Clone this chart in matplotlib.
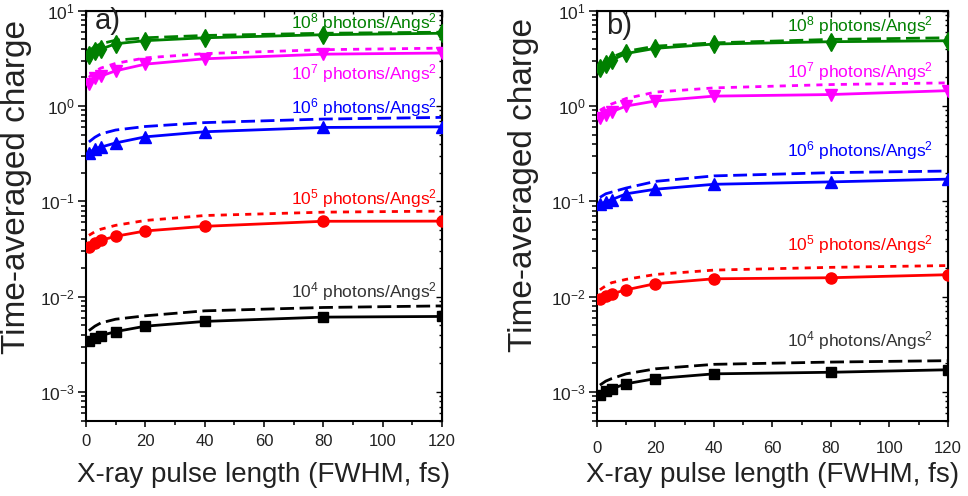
import matplotlib
matplotlib.use("Agg")
import matplotlib.pyplot as plt
from matplotlib.ticker import MultipleLocator, LogLocator, NullFormatter

plt.rcParams["font.family"] = ["Liberation Sans", "DejaVu Sans"]
plt.rcParams["mathtext.fontset"] = "custom"
plt.rcParams["mathtext.rm"] = "Liberation Sans"
plt.rcParams["mathtext.it"] = "Liberation Sans:italic"
plt.rcParams["mathtext.bf"] = "Liberation Sans:bold"
plt.rcParams["mathtext.default"] = "regular"

# X-ray pulse length (FWHM, fs)
pulse_fs = [1, 3, 5, 10, 20, 40, 80, 120]

# panel a) simulated points (solid) and model curves (dashed/dotted)
a_1e8_sim = [3.45, 3.8, 3.95, 4.5, 4.85, 5.2, 5.6, 5.8]
a_1e8_model = [3.8, 4.2, 4.5, 4.9, 5.2, 5.5, 5.8, 5.95]
a_1e7_sim = [1.72, 1.95, 2.06, 2.34, 2.75, 3.13, 3.5, 3.6]
a_1e7_model = [2.0, 2.3, 2.5, 2.8, 3.2, 3.55, 3.9, 4.05]
a_1e6_sim = [0.32, 0.358, 0.37, 0.41, 0.475, 0.537, 0.596, 0.605]
a_1e6_model = [0.42, 0.47, 0.51, 0.56, 0.61, 0.67, 0.73, 0.76]
a_1e5_sim = [0.0332, 0.0366, 0.039, 0.043, 0.0489, 0.0547, 0.0618, 0.062]
a_1e5_model = [0.044, 0.048, 0.051, 0.056, 0.063, 0.071, 0.077, 0.079]
a_1e4_sim = [0.00342, 0.0037, 0.0039, 0.0043, 0.0049, 0.0055, 0.0061, 0.0062]
a_1e4_model = [0.0044, 0.0049, 0.0053, 0.0058, 0.0063, 0.0071, 0.0077, 0.0080]

# panel b)
b_1e8_sim = [2.48, 2.75, 3.03, 3.56, 4.03, 4.47, 4.73, 4.84]
b_1e8_model = [2.6, 2.95, 3.25, 3.75, 4.25, 4.6, 5.0, 5.2]
b_1e7_sim = [0.74, 0.80, 0.87, 1.0, 1.13, 1.27, 1.32, 1.45]
b_1e7_model = [0.9, 0.98, 1.05, 1.2, 1.4, 1.55, 1.68, 1.75]
b_1e6_sim = [0.093, 0.0987, 0.104, 0.12, 0.134, 0.151, 0.16, 0.171]
b_1e6_model = [0.11, 0.12, 0.125, 0.138, 0.162, 0.185, 0.2, 0.208]
b_1e5_sim = [0.00953, 0.0101, 0.0107, 0.0118, 0.0137, 0.0154, 0.0158, 0.017]
b_1e5_model = [0.0118, 0.013, 0.014, 0.0152, 0.0171, 0.019, 0.0203, 0.0212]
b_1e4_sim = [0.00094, 0.00102, 0.00108, 0.00122, 0.00138, 0.00155, 0.00161, 0.00171]
b_1e4_model = [0.00118, 0.0013, 0.00138, 0.00155, 0.00175, 0.00195, 0.00206, 0.00213]

fluence_labels = [
    "10$^{8}$ photons/Angs$^{2}$",
    "10$^{7}$ photons/Angs$^{2}$",
    "10$^{6}$ photons/Angs$^{2}$",
    "10$^{5}$ photons/Angs$^{2}$",
    "10$^{4}$ photons/Angs$^{2}$",
]

# styles, one per fluence (top to bottom)
colors = ["#008000", "#ff00ff", "#0000ff", "#ff0000", "#000000"]
text_colors = ["#008000", "#ff00ff", "#0000ff", "#ff0000", "#333333"]
markers = ["d", "v", "^", "o", "s"]
msizes = [9, 8.5, 8.5, 8, 7]
model_dash = [(0, (5, 2)), (0, (2.2, 2.2)), (0, (5, 2)), (0, (2.2, 2.2)), (0, (5, 2))]


def draw_panel(fig, rect, sims, models, tag, tag_y, text_x, text_ys,
               ylabel_xy, tick_pad):
    ax = fig.add_axes(rect)
    ax.set_yscale("log")
    for i in range(5):
        ax.plot(pulse_fs, models[i], color=colors[i], lw=2.0,
                linestyle=model_dash[i], zorder=2)
        ax.plot(pulse_fs, sims[i], color=colors[i], lw=2.0,
                marker=markers[i], ms=msizes[i], zorder=3)
        ax.text(text_x, text_ys[i], fluence_labels[i], transform=ax.transAxes,
                ha="right", va="center", fontsize=12.5, color=text_colors[i])

    ax.set_xlim(0, 120)
    ax.set_ylim(4.96e-4, 10)
    ax.xaxis.set_major_locator(MultipleLocator(20))
    ax.xaxis.set_minor_locator(MultipleLocator(10))
    ax.yaxis.set_major_locator(LogLocator(base=10, numticks=10))
    ax.yaxis.set_minor_locator(LogLocator(base=10, subs=range(2, 10), numticks=10))
    ax.yaxis.set_minor_formatter(NullFormatter())
    ax.tick_params(which="both", direction="out", width=1.3, colors="#222222")
    ax.tick_params(axis="x", which="major", length=4.5, labelsize=12, pad=tick_pad)
    ax.tick_params(axis="x", which="minor", length=3)
    ax.tick_params(axis="y", which="major", length=6, labelsize=12.5, pad=2)
    ax.tick_params(axis="y", which="minor", length=3.5)
    for sp in ax.spines.values():
        sp.set_linewidth(1.5)

    top = ax.secondary_xaxis("top")
    top.xaxis.set_major_locator(MultipleLocator(20))
    top.xaxis.set_minor_locator(MultipleLocator(10))
    top.tick_params(which="both", direction="in", labeltop=False, width=1.0)
    top.tick_params(which="major", length=4)
    top.tick_params(which="minor", length=2.5)
    right = ax.secondary_yaxis("right")
    right.tick_params(which="both", direction="in", labelright=False, width=1.0)
    right.tick_params(which="major", length=4)
    right.tick_params(which="minor", length=2.5)
    right.yaxis.set_minor_formatter(NullFormatter())

    ax.text(0.025, tag_y, tag, transform=ax.transAxes, ha="left", va="center",
            fontsize=21, color="#222222")
    ax.set_xlabel("X-ray pulse length (FWHM, fs)", fontsize=20, color="#222222")
    ax.xaxis.set_label_coords(0.5, -0.1)
    ax.set_ylabel("Time-averaged charge", fontsize=24, color="#222222")
    ax.yaxis.set_label_coords(*ylabel_xy)
    return ax


fig = plt.figure(figsize=(9.68, 4.96), dpi=100)

draw_panel(
    fig, [0.0888, 0.1512, 0.3678, 0.8272],
    [a_1e8_sim, a_1e7_sim, a_1e6_sim, a_1e5_sim, a_1e4_sim],
    [a_1e8_model, a_1e7_model, a_1e6_model, a_1e5_model, a_1e4_model],
    "a)", 0.975, 0.986, [0.972, 0.848, 0.763, 0.543, 0.315],
    (-0.152, 0.57), 5,
)
draw_panel(
    fig, [0.6167, 0.1512, 0.3626, 0.8272],
    [b_1e8_sim, b_1e7_sim, b_1e6_sim, b_1e5_sim, b_1e4_sim],
    [b_1e8_model, b_1e7_model, b_1e6_model, b_1e5_model, b_1e4_model],
    "b)", 0.963, 0.957, [0.965, 0.851, 0.66, 0.431, 0.197],
    (-0.165, 0.575), 10,
)

fig.savefig("out.png", dpi=100)
